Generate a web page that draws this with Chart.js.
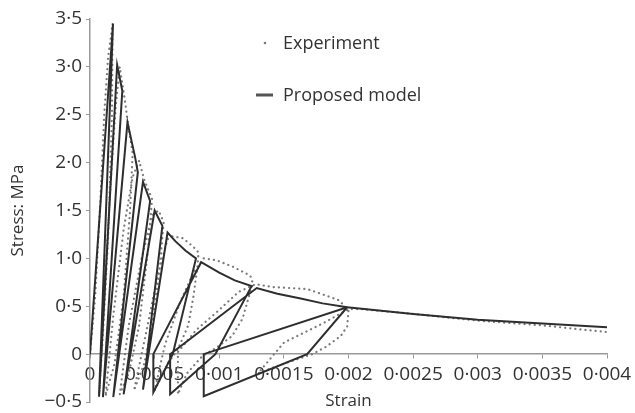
<!DOCTYPE html>
<html>
<head>
<meta charset="utf-8">
<script src="https://cdn.jsdelivr.net/npm/chart.js@4/dist/chart.umd.min.js"></script>
<style>
    html, body { margin: 0; padding: 0; background: #fff; }
    #wrap { width: 635px; height: 413px; }
</style>
</head>
<body>
<div id="wrap"><canvas id="stressChart"></canvas></div>
<script>
// Tick labels (decimal point is a middle dot in the source figure)
const xTickLabels = ['0', '0·0005', '0·001', '0·0015', '0·002', '0·0025', '0·003', '0·0035', '0·004'];
const yTickLabels = ['−0·5', '0', '0·5', '1·0', '1·5', '2·0', '2·5', '3·0', '3·5'];

// Proposed model: envelope with unload / reload cycles
const modelStrain = [
    0, 0.000178, 0.00007, 0.00021,
    0.00025, 0.0001, 0.00029, 0.00035,
    0.00037, 0.00018, 0.00041,
    0.000465, 0.00026, 0.0005,
    0.00056, 0.00041, 0.0006, 0.00066, 0.00074,
    0.00082, 0.00064, 0.00049, 0.00049, 0.00086, 0.001, 0.00112,
    0.00125, 0.00097, 0.00062, 0.00062, 0.00129, 0.00145, 0.00163, 0.0018,
    0.00199, 0.00168, 0.00088, 0.00088, 0.00199,
    0.0025, 0.003, 0.0035, 0.004
];
const modelStress = [
    0, 3.45, -0.44, 3.02,
    2.75, -0.45, 2.42, 2.05,
    1.9, -0.45, 1.8,
    1.6, -0.42, 1.5,
    1.34, -0.37, 1.27, 1.18, 1.08,
    1.0, 0, -0.40, 0, 0.96, 0.85, 0.77,
    0.71, 0, -0.42, 0, 0.69, 0.63, 0.58, 0.53,
    0.49, 0, -0.44, 0, 0.49,
    0.42, 0.36, 0.32, 0.28
];

// Experiment
const expStrain = [
    0, 0.00004, 0.00008, 0.00011, 0.00014, 0.000175,
    0.00017, 0.00014, 0.0001, 0.00007,
    0.00011, 0.00016, 0.0002, 0.00023,
    0.00027, 0.0003, 0.00033,
    0.00031, 0.00026, 0.00019, 0.00012,
    0.00018, 0.00026, 0.00033, 0.00038,
    0.00042, 0.00048,
    0.00045, 0.00038, 0.0003, 0.00023,
    0.0003, 0.0004, 0.00048, 0.00053,
    0.00057,
    0.00054, 0.00048, 0.00042, 0.00034,
    0.00043, 0.00052, 0.0006, 0.00064,
    0.00072, 0.0008, 0.00084,
    0.00083, 0.0008, 0.00076, 0.00068, 0.0006, 0.0005,
    0.00058, 0.0007, 0.0008, 0.00088,
    0.00098, 0.00111, 0.00124, 0.00126,
    0.00124, 0.00118, 0.0011, 0.00098, 0.00087, 0.00075, 0.00068,
    0.00068, 0.00082, 0.00099, 0.00115, 0.00128,
    0.00142, 0.00168, 0.00185, 0.00193, 0.002,
    0.00199, 0.00194, 0.00183, 0.00172, 0.0015, 0.0013,
    0.0015, 0.0018, 0.002,
    0.0021, 0.0025, 0.003, 0.0035, 0.004
];
const expStress = [
    0, 0.6, 1.6, 2.5, 3.1, 3.45,
    2.5, 1.2, 0.2, -0.45,
    0.6, 1.8, 2.6, 3.0,
    2.65, 2.35, 2.1,
    1.5, 0.6, -0.1, -0.44,
    0.4, 1.3, 1.85, 2.02,
    1.82, 1.62,
    1.1, 0.3, -0.2, -0.42,
    0.3, 1.0, 1.45, 1.5,
    1.38,
    0.9, 0.3, -0.1, -0.38,
    0.2, 0.8, 1.2, 1.23,
    1.21, 1.12, 1.06,
    0.9, 0.6, 0.3, 0.05, -0.1, -0.38,
    0.1, 0.55, 0.85, 1.0,
    0.98, 0.91, 0.82, 0.74,
    0.65, 0.37, 0.19, 0.07, -0.02, -0.2, -0.42,
    0.02, 0.25, 0.45, 0.65, 0.73,
    0.70, 0.68, 0.6, 0.56, 0.45,
    0.29, 0.19, 0.08, 0.0, -0.1, -0.2,
    0.12, 0.32, 0.47,
    0.47, 0.42, 0.35, 0.3, 0.23
];

const TEXT = '#333';
const AXIS = '#9a9a9a';
Chart.defaults.font.family = "'Open Sans', sans-serif";
Chart.defaults.color = TEXT;

function toPoints(xs, ys) {
    return xs.map((x, i) => ({ x: x, y: ys[i] }));
}

// Legend sits inside the plot, drawn by hand
const insideLegend = {
    id: 'insideLegend',
    afterDraw(chart) {
        const ctx = chart.ctx;
        ctx.save();
        ctx.font = "18px 'Open Sans', sans-serif";
        ctx.fillStyle = TEXT;
        ctx.textBaseline = 'middle';
        ctx.fillText('Experiment', 283, 44);
        ctx.fillText('Proposed model', 283, 96);
        ctx.fillStyle = '#777';
        ctx.beginPath();
        ctx.arc(265, 43, 1.3, 0, Math.PI * 2);
        ctx.fill();
        ctx.strokeStyle = '#555';
        ctx.lineWidth = 3;
        ctx.beginPath();
        ctx.moveTo(256, 95);
        ctx.lineTo(273, 95);
        ctx.stroke();
        ctx.restore();
    }
};

new Chart(document.getElementById('stressChart'), {
    type: 'scatter',
    data: {
        datasets: [
            {
                label: 'Proposed model',
                data: toPoints(modelStrain, modelStress),
                showLine: true,
                borderColor: '#2e2e2e',
                borderWidth: 2,
                pointRadius: 0,
                fill: false
            },
            {
                label: 'Experiment',
                data: toPoints(expStrain, expStress),
                showLine: true,
                borderColor: '#7a7a7a',
                borderWidth: 2.2,
                borderDash: [0.1, 5],
                borderCapStyle: 'round',
                pointRadius: 0,
                fill: false
            }
        ]
    },
    options: {
        responsive: true,
        maintainAspectRatio: false,
        animation: false,
        devicePixelRatio: 1,
        layout: { padding: { top: 19, right: 28, bottom: 11, left: 0 } },
        plugins: { legend: { display: false }, tooltip: { enabled: false } },
        scales: {
            x: {
                type: 'linear',
                position: { y: 0 },
                min: 0, max: 0.004,
                afterFit: (scale) => { scale.paddingLeft = 0; scale.paddingRight = 0; },
                grid: { display: true, drawOnChartArea: false, drawTicks: true, tickLength: 4, color: AXIS },
                border: { color: AXIS, width: 1.5 },
                ticks: {
                    stepSize: 0.0005, autoSkip: false, maxRotation: 0, padding: 5,
                    font: { size: 19 }, color: TEXT,
                    callback: (v, i) => xTickLabels[i]
                },
                title: { display: true, text: 'Strain', font: { size: 17 }, color: TEXT, padding: 0 }
            },
            y: {
                min: -0.5, max: 3.5,
                afterFit: (scale) => { scale.width = 90; scale.paddingTop = 0; scale.paddingBottom = 0; },
                grid: { display: true, drawOnChartArea: false, drawTicks: true, tickLength: 4, color: AXIS },
                border: { color: AXIS, width: 1.5 },
                ticks: {
                    stepSize: 0.5, padding: 4,
                    font: { size: 19 }, color: TEXT,
                    callback: (v, i) => yTickLabels[i]
                },
                title: { display: true, text: 'Stress: MPa', font: { size: 17 }, color: TEXT, padding: { top: 8, bottom: 0 } }
            }
        }
    },
    plugins: [insideLegend]
});
</script>
</body>
</html>
